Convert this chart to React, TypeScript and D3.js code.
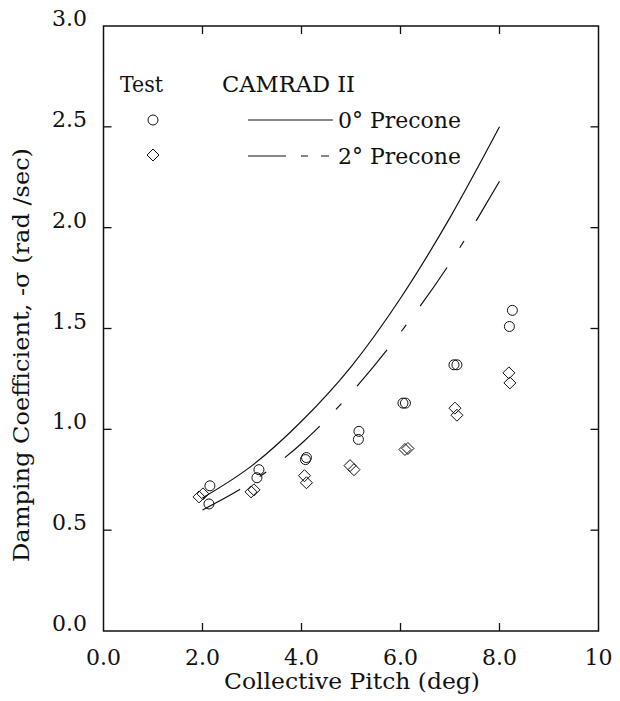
import React, { useEffect, useRef, useState } from "react";
import * as d3 from "d3";

const xTicks = [0, 2, 4, 6, 8, 10];
const xTickLabels = ["0.0", "2.0", "4.0", "6.0", "8.0", "10"];
const yTicks = [0, 0.5, 1.0, 1.5, 2.0, 2.5, 3.0];
const yTickLabels = ["0.0", "0.5", "1.0", "1.5", "2.0", "2.5", "3.0"];

const curvePitch = [2, 3, 4, 5, 6, 7, 8];
const precone0 = [0.66, 0.82, 1.04, 1.31, 1.65, 2.05, 2.5];
const precone2 = [0.6, 0.74, 0.93, 1.18, 1.48, 1.825, 2.23];

const circlePitch = [2.13, 2.15, 3.1, 3.14, 4.08, 4.1, 5.15, 5.16, 6.05, 6.1, 7.08, 7.14, 8.2, 8.26];
const circleDamping = [0.63, 0.72, 0.76, 0.8, 0.85, 0.86, 0.95, 0.99, 1.13, 1.13, 1.32, 1.32, 1.51, 1.59];

const diamondPitch = [1.93, 2.01, 2.98, 3.04, 4.06, 4.1, 4.98, 5.06, 6.09, 6.15, 7.1, 7.14, 8.19, 8.21];
const diamondDamping = [0.665, 0.68, 0.69, 0.7, 0.77, 0.735, 0.82, 0.8, 0.9, 0.905, 1.105, 1.07, 1.28, 1.23];

const W = 620;
const H = 701;
const L = 103.5, R = 598.5, T = 26, B = 631;
const FONT = "'DejaVu Serif', serif";
const FS = 22;

export default function App() {
  const x = d3.scaleLinear().domain([0, 10]).range([L, R]);
  const y = d3.scaleLinear().domain([0, 3]).range([B, T]);
  const line = d3
    .line<[number, number]>()
    .x((d) => x(d[0]))
    .y((d) => y(d[1]))
    .curve(d3.curveMonotoneX);
  const d0 = line(curvePitch.map((p, i) => [p, precone0[i]]) as [number, number][]) || "";
  const d2 = line(curvePitch.map((p, i) => [p, precone2[i]]) as [number, number][]) || "";
  const tk = 8;
  const diamond = (cx: number, cy: number, s: number) =>
    `M${cx},${cy - s}L${cx + s},${cy}L${cx},${cy + s}L${cx - s},${cy}Z`;

  const dashRef = useRef<SVGPathElement | null>(null);
  const [dash, setDash] = useState("47,22,8,22");
  useEffect(() => {
    if (!dashRef.current) return;
    const len = dashRef.current.getTotalLength();
    const P = (len - 42) / 4;
    const longD = 47;
    const shortD = 8;
    const gap = (P - longD - shortD) / 2;
    setDash(`${longD},${gap},${shortD},${gap}`);
  }, []);

  return (
    <svg
      width={W}
      height={H}
      style={{ position: "absolute", left: 0, top: 0, background: "#fff" }}
      fontFamily={FONT}
    >
      <rect x={0} y={0} width={W} height={H} fill="#fff" />
      {/* frame */}
      <rect x={L} y={T} width={R - L} height={B - T} fill="none" stroke="#111" strokeWidth={1.5} />
      {xTicks.slice(1, -1).map((t) => (
        <g key={"xt" + t}>
          <line x1={x(t)} x2={x(t)} y1={B} y2={B - tk} stroke="#111" strokeWidth={1.3} />
          <line x1={x(t)} x2={x(t)} y1={T} y2={T + tk} stroke="#111" strokeWidth={1.3} />
        </g>
      ))}
      {yTicks.slice(1, -1).map((t) => (
        <g key={"yt" + t}>
          <line x1={L} x2={L + tk} y1={y(t)} y2={y(t)} stroke="#111" strokeWidth={1.3} />
          <line x1={R} x2={R - tk} y1={y(t)} y2={y(t)} stroke="#111" strokeWidth={1.3} />
        </g>
      ))}
      {xTicks.map((t, i) => (
        <text key={"xl" + t} x={x(t)} y={665} fontSize={FS} textAnchor="middle" fill="#111">
          {xTickLabels[i]}
        </text>
      ))}
      {yTicks.map((t, i) => (
        <text key={"yl" + t} x={87} y={y(t)} fontSize={FS} textAnchor="end" fill="#111">
          {yTickLabels[i]}
        </text>
      ))}
      <text
        x={224}
        y={689}
        fontSize={FS}
        fill="#111"
        textLength={256}
        lengthAdjust="spacingAndGlyphs"
      >
        Collective Pitch (deg)
      </text>
      <text
        transform={`translate(29,562) rotate(-90)`}
        fontSize={FS}
        fill="#111"
        textLength={414}
        lengthAdjust="spacingAndGlyphs"
      >
        Damping Coefficient, -σ (rad /sec)
      </text>

      {/* curves */}
      <path d={d0} fill="none" stroke="#111" strokeWidth={1.2} />
      <path
        ref={dashRef}
        d={d2}
        fill="none"
        stroke="#111"
        strokeWidth={1.2}
        strokeDasharray={dash}
        strokeDashoffset={4}
      />

      {/* test data */}
      {circlePitch.map((p, i) => (
        <circle key={"c" + i} cx={x(p)} cy={y(circleDamping[i])} r={5} fill="none" stroke="#111" strokeWidth={1} />
      ))}
      {diamondPitch.map((p, i) => (
        <path key={"d" + i} d={diamond(x(p), y(diamondDamping[i]), 6)} fill="none" stroke="#111" strokeWidth={1} />
      ))}

      {/* legend */}
      <text x={120} y={92} fontSize={FS} fill="#111" textLength={43} lengthAdjust="spacingAndGlyphs">Test</text>
      <text x={222} y={92} fontSize={FS} fill="#111" textLength={133} lengthAdjust="spacingAndGlyphs">CAMRAD II</text>
      <circle cx={153} cy={120} r={5} fill="none" stroke="#111" strokeWidth={1} />
      <path d={diamond(153, 155, 6)} fill="none" stroke="#111" strokeWidth={1} />
      <line x1={248} x2={333} y1={120} y2={120} stroke="#111" strokeWidth={1.2} />
      <line x1={248} x2={333} y1={156} y2={156} stroke="#111" strokeWidth={1.2} strokeDasharray="38,15,7,13,8,10" />
      <text x={338} y={128} fontSize={FS} fill="#111" textLength={123} lengthAdjust="spacingAndGlyphs">0° Precone</text>
      <text x={338} y={164} fontSize={FS} fill="#111" textLength={123} lengthAdjust="spacingAndGlyphs">2° Precone</text>
    </svg>
  );
}
